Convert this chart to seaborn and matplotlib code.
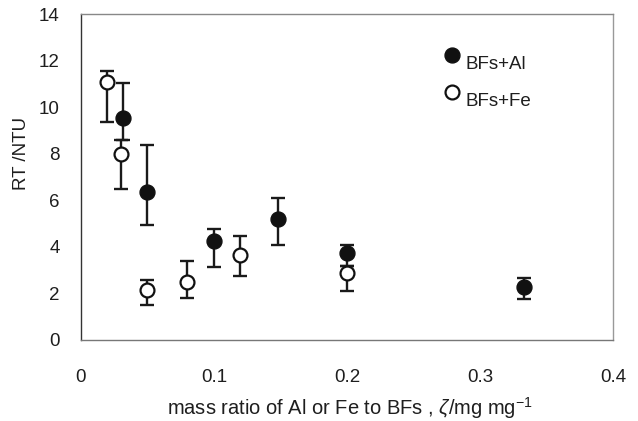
import matplotlib
matplotlib.use("Agg")
import matplotlib.pyplot as plt
import seaborn as sns
import pandas as pd

# Residual turbidity vs. coagulant-to-BFs mass ratio
al_ratio = [0.032, 0.05, 0.10, 0.148, 0.20, 0.333]
al_rt = [9.54, 6.38, 4.27, 5.20, 3.73, 2.29]
al_err_low = [0.94, 1.44, 1.15, 1.13, 0.54, 0.54]
al_err_high = [1.50, 1.99, 0.50, 0.89, 0.35, 0.36]

fe_ratio = [0.02, 0.03, 0.05, 0.08, 0.12, 0.20]
fe_rt = [11.07, 8.00, 2.15, 2.48, 3.64, 2.87]
fe_err_low = [1.69, 1.50, 0.66, 0.68, 0.89, 0.75]
fe_err_high = [0.50, 0.60, 0.44, 0.90, 0.83, 0.31]

x_ticks = [0, 0.1, 0.2, 0.3, 0.4]
x_tick_labels = ["0", "0.1", "0.2", "0.3", "0.4"]
y_ticks = [0, 2, 4, 6, 8, 10, 12, 14]

sns.set_style("white")
plt.rcParams["font.family"] = ["Liberation Sans", "DejaVu Sans"]
plt.rcParams["mathtext.fontset"] = "custom"
plt.rcParams["mathtext.rm"] = "Liberation Sans"
plt.rcParams["mathtext.it"] = "Liberation Sans:italic"

al = pd.DataFrame({"ratio": al_ratio, "rt": al_rt})
fe = pd.DataFrame({"ratio": fe_ratio, "rt": fe_rt})

fig = plt.figure(figsize=(6.38, 4.21), dpi=100)
ax = fig.add_axes([0.1265, 0.1924, 0.8348, 0.7736])

err_kw = dict(fmt="none", ecolor="#1a1a1a", elinewidth=1.7, capsize=4.8,
              capthick=1.7, zorder=2)
ax.errorbar(al["ratio"], al["rt"], yerr=[al_err_low, al_err_high], **err_kw)
ax.errorbar(fe["ratio"], fe["rt"], yerr=[fe_err_low, fe_err_high], **err_kw)

sns.scatterplot(data=al, x="ratio", y="rt", ax=ax, marker="o", s=115,
                color="#111111", edgecolor="#111111", linewidth=1.0,
                label="BFs+Al", zorder=3)
sns.scatterplot(data=fe, x="ratio", y="rt", ax=ax, marker="o", s=100,
                color="white", edgecolor="#111111", linewidth=1.6,
                label="BFs+Fe", zorder=3)

ax.set_xlim(0, 0.4)
ax.set_ylim(0, 14)
ax.set_xticks(x_ticks)
ax.set_xticklabels(x_tick_labels)
ax.set_yticks(y_ticks)
ax.tick_params(axis="both", direction="out", length=5, width=0.8,
               color="#555555", labelsize=13.5, labelcolor="#1e1e1e")
ax.tick_params(axis="y", pad=10)
ax.tick_params(axis="x", pad=16)

ax.spines["left"].set_color("#333333")
ax.spines["bottom"].set_color("#777777")
ax.spines["top"].set_color("#888888")
ax.spines["right"].set_color("#999999")
for sp in ax.spines.values():
    sp.set_linewidth(1.0)

ax.set_xlabel(r"mass ratio of Al or Fe to BFs , $\zeta$/mg mg$^{-1}$",
              fontsize=14.5, color="#1e1e1e")
ax.xaxis.set_label_coords(0.505, -0.168)
ax.set_ylabel("RT /NTU", fontsize=13.5, color="#1e1e1e")
ax.yaxis.set_label_coords(-0.112, 0.574)
ax.yaxis.label.set_va("center")
ax.yaxis.label.set_ha("center")

leg = ax.legend(loc="upper left", bbox_to_anchor=(0.665, 0.895),
                frameon=False, fontsize=13.5, handlelength=1.0,
                handletextpad=0.25, labelspacing=1.07, borderaxespad=0,
                scatteryoffsets=[1.1])
for t in leg.get_texts():
    t.set_color("#1e1e1e")

fig.savefig("out.png", dpi=100)
